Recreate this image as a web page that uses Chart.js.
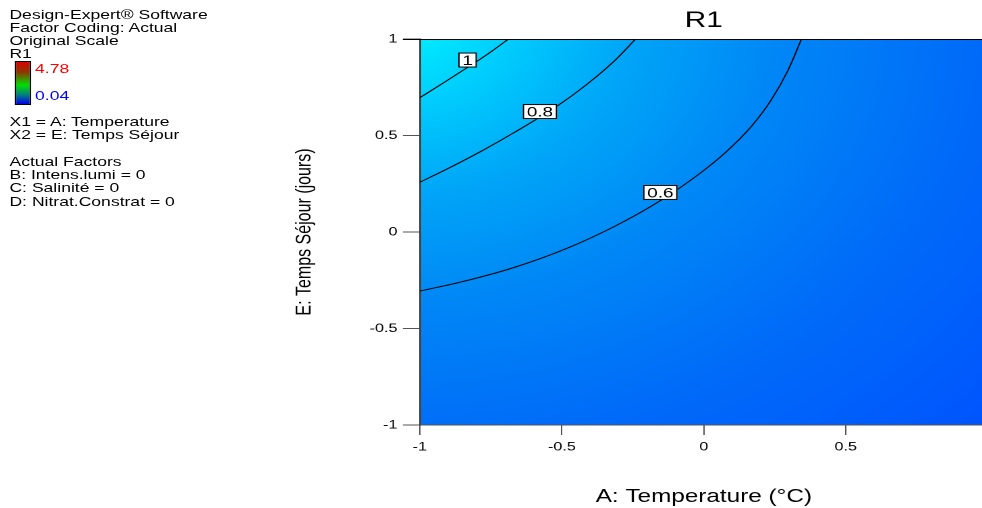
<!DOCTYPE html>
<html>
<head>
<meta charset="utf-8">
<script src="https://cdn.jsdelivr.net/npm/chart.js@4.4.1/dist/chart.umd.min.js"></script>
<style>
  html, body { margin: 0; padding: 0; background: #fff; overflow: hidden; width: 982px; height: 508px; }
  /* the reference is a horizontally stretched export, so the whole sheet is stretched the same way */
  #sheet { position: absolute; left: 0; top: 0; width: 740px; height: 508px; transform: scaleX(1.35); transform-origin: 0 0; }
  #sheet canvas { position: absolute; left: 0; top: 0; }
  .note { position: absolute; left: 7px; font: 13px "Liberation Sans", Arial, sans-serif; line-height: 13px; color: #000; white-space: nowrap; }
  #bar { position: absolute; left: 11px; top: 61px; width: 10px; height: 42px; border: 1px solid #000;
         background: linear-gradient(to bottom, #e00000 0%, #8a3a00 25%, #00e000 55%, #008080 78%, #0000f0 100%); }
</style>
</head>
<body>
<div id="sheet">
  <div class="note" style="top:8px">Design-Expert® Software</div>
  <div class="note" style="top:21px">Factor Coding: Actual</div>
  <div class="note" style="top:34px">Original Scale</div>
  <div class="note" style="top:47px">R1</div>
  <div id="bar"></div>
  <div class="note" style="left:26px;top:62px;color:#f00">4.78</div>
  <div class="note" style="left:26px;top:89px;color:#00f">0.04</div>
  <div class="note" style="top:115px">X1 = A: Temperature</div>
  <div class="note" style="top:128px">X2 = E: Temps Séjour</div>
  <div class="note" style="top:155px">Actual Factors</div>
  <div class="note" style="top:168px">B: Intens.lumi = 0</div>
  <div class="note" style="top:181px">C: Salinité = 0</div>
  <div class="note" style="top:195px">D: Nitrat.Constrat = 0</div>
  <canvas id="chart" width="740" height="508"></canvas>
</div>
<script>
const FONT = '"Liberation Sans", Arial, sans-serif';

const xTicks = [-1, -0.5, 0, 0.5, 1];
const yTicks = [-1, -0.5, 0, 0.5, 1];

// contour levels of R1 and the points of each iso-line (A: Temperature, E: Temps Séjour)
const levels = ['1', '0.8', '0.6'];
const line1X = [-1, -0.924, -0.832, -0.796, -0.737, -0.688];
const line1Y = [0.696, 0.766, 0.853, 0.887, 0.947, 1];
const line08X = [-1, -0.902, -0.782, -0.667, -0.516, -0.411, -0.316, -0.240];
const line08Y = [0.258, 0.328, 0.420, 0.516, 0.653, 0.766, 0.885, 1];
const line06X = [-1, -0.835, -0.660, -0.484, -0.309, -0.158, -0.018, 0.077, 0.168, 0.239, 0.298, 0.344];
const line06Y = [-0.306, -0.252, -0.180, -0.086, 0.033, 0.158, 0.299, 0.413, 0.548, 0.688, 0.842, 1];

// where the level labels sit on the lines
const labelX = [-0.832, -0.577, -0.153];
const labelY = [0.891, 0.624, 0.205];

const toPoints = (xs, ys) => xs.map((x, i) => ({ x: x, y: ys[i] }));

const lineStyle = {
  showLine: true,
  borderColor: '#000',
  borderWidth: 1,
  pointRadius: 0,
  cubicInterpolationMode: 'monotone',
  fill: false
};

// colour field behind the contours
const fieldBg = {
  id: 'fieldBg',
  beforeDraw(chart) {
    const { ctx, chartArea: a } = chart;
    ctx.save();
    ctx.beginPath();
    ctx.rect(a.left, a.top, a.right - a.left, a.bottom - a.top);
    ctx.clip();
    const cx = a.left - 20, cy = a.top - 20;
    const g = ctx.createRadialGradient(cx, cy, 0, cx, cy, 620);
    g.addColorStop(0, '#00f6ff');
    g.addColorStop(0.05, '#00e8ff');
    g.addColorStop(0.14, '#00cdfd');
    g.addColorStop(0.28, '#00a6f8');
    g.addColorStop(0.46, '#0087f6');
    g.addColorStop(0.7, '#006af9');
    g.addColorStop(1, '#0052ff');
    ctx.fillStyle = g;
    ctx.fillRect(a.left, a.top, a.right - a.left, a.bottom - a.top);
    ctx.restore();
  }
};

// top frame line and boxed level labels
const contourLabels = {
  id: 'contourLabels',
  afterDatasetsDraw(chart) {
    const { ctx, chartArea: a } = chart;
    const xs = chart.scales.x, ys = chart.scales.y;
    ctx.save();
    ctx.strokeStyle = '#000';
    ctx.lineWidth = 1;
    ctx.beginPath();
    ctx.moveTo(a.left - 12.6, a.top + 0.5);
    ctx.lineTo(a.right, a.top + 0.5);
    ctx.stroke();

    ctx.font = '14px ' + FONT;
    ctx.textAlign = 'center';
    ctx.textBaseline = 'middle';
    levels.forEach((txt, i) => {
      const px = xs.getPixelForValue(labelX[i]);
      const py = ys.getPixelForValue(labelY[i]);
      const w = ctx.measureText(txt).width + 6;
      const h = 15;
      ctx.fillStyle = '#fff';
      ctx.fillRect(px - w / 2, py - h / 2, w, h);
      ctx.strokeStyle = '#000';
      ctx.strokeRect(px - w / 2 + 0.5, py - h / 2 + 0.5, w - 1, h - 1);
      ctx.fillStyle = '#000';
      ctx.fillText(txt, px, py + 1);
    });
    ctx.restore();
  }
};

new Chart(document.getElementById('chart'), {
  type: 'scatter',
  data: {
    datasets: [
      Object.assign({ label: levels[0], data: toPoints(line1X, line1Y) }, lineStyle),
      Object.assign({ label: levels[1], data: toPoints(line08X, line08Y) }, lineStyle),
      Object.assign({ label: levels[2], data: toPoints(line06X, line06Y) }, lineStyle)
    ]
  },
  options: {
    responsive: false,
    devicePixelRatio: 2,
    animation: false,
    layout: { padding: { left: 0, right: 6.7, top: 0, bottom: 0 } },
    plugins: {
      legend: { display: false },
      tooltip: { enabled: false },
      title: {
        display: true,
        text: 'R1',
        fullSize: false,
        color: '#000',
        font: { family: FONT, size: 22, weight: 'normal', lineHeight: 1.1 },
        padding: { top: 9, bottom: 5.8 }
      }
    },
    scales: {
      x: {
        type: 'linear',
        min: -1,
        max: 1,
        afterBuildTicks: s => { s.ticks = xTicks.map(v => ({ value: v })); },
        afterFit: s => { s.height = 83; },
        grid: { drawOnChartArea: false, tickLength: 10, tickColor: '#555' },
        border: { color: '#555', width: 1 },
        ticks: { color: '#000', padding: 5, maxRotation: 0, font: { family: FONT, size: 12 }, callback: v => String(v) },
        title: {
          display: true,
          text: 'A: Temperature (°C)',
          color: '#000',
          font: { family: FONT, size: 18, lineHeight: 1 },
          padding: { top: 0, bottom: 2 }
        }
      },
      y: {
        type: 'linear',
        min: -1,
        max: 1,
        afterBuildTicks: s => { s.ticks = yTicks.map(v => ({ value: v })); },
        afterFit: s => { s.width = 311; },
        grid: { drawOnChartArea: false, tickLength: 12.6, tickColor: '#555' },
        border: { color: '#444', width: 1.5 },
        ticks: { color: '#000', padding: 4, font: { family: FONT, size: 12 }, callback: v => String(v) },
        title: {
          display: true,
          text: 'E: Temps Séjour (jours)',
          color: '#000',
          font: { family: FONT, size: 16, lineHeight: 1.2 },
          padding: { top: 216, bottom: 0 }
        }
      }
    }
  },
  plugins: [fieldBg, contourLabels]
});
</script>
</body>
</html>
